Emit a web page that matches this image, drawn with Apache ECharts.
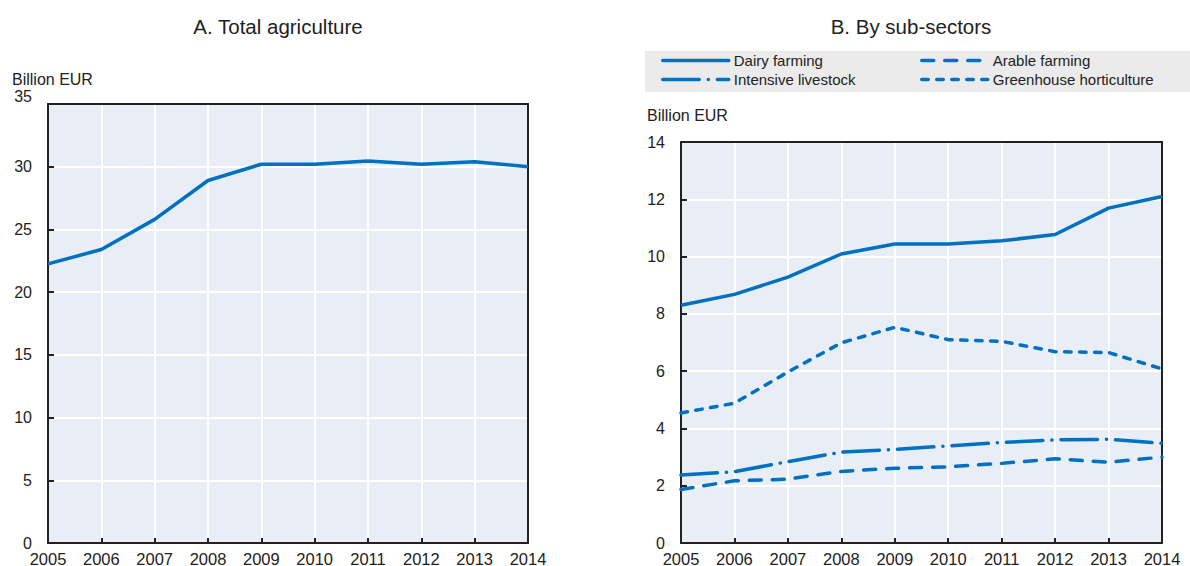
<!DOCTYPE html>
<html>
<head>
<meta charset="utf-8">
<script src="https://cdn.jsdelivr.net/npm/echarts@6/dist/echarts.min.js"></script>
<style>
html,body{margin:0;padding:0;background:#fff;}
#c{width:1190px;height:566px;}
</style>
</head>
<body>
<div id="c"></div>
<script>
const years = ['2005','2006','2007','2008','2009','2010','2011','2012','2013','2014'];
const totalAgriculture = [22.25, 23.4, 25.8, 28.9, 30.2, 30.2, 30.45, 30.2, 30.4, 30.0];
const dairyFarming = [8.3, 8.68, 9.28, 10.09, 10.44, 10.44, 10.55, 10.77, 11.69, 12.1];
const arableFarming = [1.87, 2.17, 2.23, 2.5, 2.61, 2.66, 2.78, 2.94, 2.82, 3.0];
const intensiveLivestock = [2.37, 2.49, 2.84, 3.17, 3.27, 3.39, 3.51, 3.6, 3.62, 3.48];
const greenhouseHorticulture = [4.54, 4.88, 5.97, 6.99, 7.53, 7.1, 7.04, 6.68, 6.65, 6.08];
const titleA = 'A. Total agriculture';
const titleB = 'B. By sub-sectors';
const unitLabel = 'Billion EUR';

const FONT = 'Arial, "Liberation Sans", sans-serif';
const BLUE = '#0070c0';
const DARK = '#222';

function xAxis(gridIndex) {
  return {
    type: 'category', gridIndex, data: years, boundaryGap: false,
    axisLine: { show: true, lineStyle: { color: DARK, width: 2 } },
    axisTick: { show: true, inside: true, length: 5, lineStyle: { color: DARK, width: 2 } },
    axisLabel: { color: DARK, fontSize: 16.5, fontFamily: FONT, margin: 7, interval: 0 },
    splitLine: { show: true, lineStyle: { color: '#fff', width: 2 } }
  };
}
function xAxisTop(gridIndex) {
  return {
    type: 'category', gridIndex, data: years, boundaryGap: false, position: 'top',
    axisLine: { show: true, onZero: false, lineStyle: { color: DARK, width: 2 } },
    axisTick: { show: false }, axisLabel: { show: false }, splitLine: { show: false }
  };
}
function yAxis(gridIndex, max, interval, topBottom) {
  const lab = { color: DARK, fontSize: 16, fontFamily: FONT, margin: 16 };
  if (topBottom) lab.verticalAlignMaxLabel = 'bottom';
  return {
    type: 'value', gridIndex, min: 0, max, interval,
    axisLine: { show: true, lineStyle: { color: DARK, width: 2 } },
    axisTick: { show: true, inside: true, length: 6, lineStyle: { color: DARK, width: 2 } },
    axisLabel: lab,
    splitLine: { show: true, lineStyle: { color: '#fff', width: 2 } }
  };
}
function yAxisRight(gridIndex, max, interval) {
  return {
    type: 'value', gridIndex, min: 0, max, interval, position: 'right',
    axisLine: { show: true, onZero: false, lineStyle: { color: DARK, width: 2 } },
    axisTick: { show: false }, axisLabel: { show: false }, splitLine: { show: false }
  };
}
function line(name, data, xi, dash) {
  return {
    name, type: 'line', data, xAxisIndex: xi, yAxisIndex: xi,
    symbol: 'none', smooth: false, z: 3,
    lineStyle: { color: BLUE, width: 3.5, type: dash || 'solid', cap: dash ? 'round' : 'butt' },
    itemStyle: { color: BLUE }
  };
}
const legendCommon = {
  orient: 'vertical', top: 53, padding: 0,
  itemWidth: 66, itemHeight: 16, itemGap: 4,
  textStyle: { color: DARK, fontSize: 15, fontFamily: FONT },
  itemStyle: { opacity: 0, borderWidth: 0 },
  lineStyle: { width: 3.5, cap: 'round' },
  selectedMode: false
};

const chart = echarts.init(document.getElementById('c'), null, { renderer: 'svg' });
chart.setOption({
  animation: false,
  backgroundColor: '#fff',
  textStyle: { fontFamily: FONT },
  grid: [
    { left: 48, top: 104, width: 480, bottom: 23, show: true, backgroundColor: '#e9edf6', borderWidth: 0, outerBoundsMode: 'none', containLabel: false },
    { left: 681, top: 142, width: 481, bottom: 23, show: true, backgroundColor: '#e9edf6', borderWidth: 0, outerBoundsMode: 'none', containLabel: false }
  ],
  xAxis: [xAxis(0), xAxis(1), xAxisTop(0), xAxisTop(1)],
  yAxis: [yAxis(0, 35, 5, true), yAxis(1, 14, 2, false), yAxisRight(0, 35, 5), yAxisRight(1, 14, 2)],
  legend: [
    Object.assign({ data: ['Dairy farming', 'Intensive livestock'], left: 661 }, legendCommon),
    Object.assign({ data: ['Arable farming', 'Greenhouse horticulture'], left: 920 }, legendCommon)
  ],
  graphic: [
    { type: 'rect', z: -1, shape: { x: 645, y: 51, width: 545, height: 41 }, style: { fill: '#ebebeb' } },
    { type: 'text', style: { text: titleA, x: 278, y: 26, textAlign: 'center', textVerticalAlign: 'middle', font: '20.5px ' + FONT, fill: DARK } },
    { type: 'text', style: { text: titleB, x: 911, y: 26, textAlign: 'center', textVerticalAlign: 'middle', font: '20.5px ' + FONT, fill: DARK } },
    { type: 'text', style: { text: unitLabel, x: 12, y: 79, textAlign: 'left', textVerticalAlign: 'middle', font: '16px ' + FONT, fill: DARK } },
    { type: 'text', style: { text: unitLabel, x: 647, y: 115, textAlign: 'left', textVerticalAlign: 'middle', font: '16px ' + FONT, fill: DARK } }
  ],
  series: [
    line('Total agriculture', totalAgriculture, 0),
    line('Dairy farming', dairyFarming, 1),
    line('Arable farming', arableFarming, 1, [12, 11]),
    line('Intensive livestock', intensiveLivestock, 1, [36.5, 9, 0.1, 9]),
    line('Greenhouse horticulture', greenhouseHorticulture, 1, [6.5, 8.5])
  ]
});
</script>
</body>
</html>
